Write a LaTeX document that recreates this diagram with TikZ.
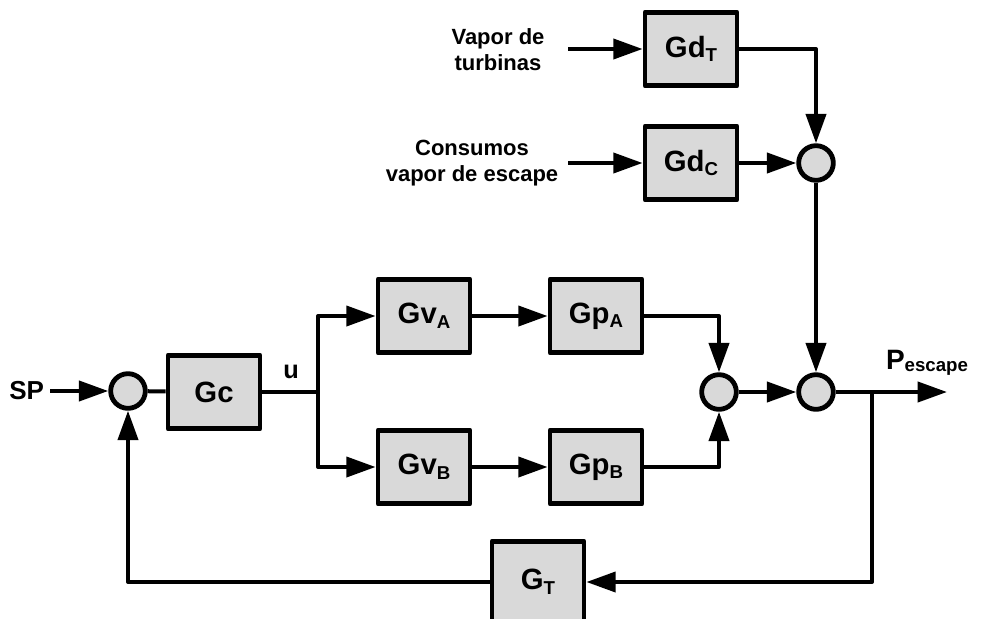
\documentclass[tikz,border=0pt]{standalone}
\usepackage{fontspec}
\setmainfont{Liberation Sans}
\usetikzlibrary{arrows.meta}
\definecolor{boxgray}{RGB}{217,217,217}
\newcommand{\lowsub}[1]{\raisebox{-0.3ex}{\fontsize{14}{14}\selectfont #1}}
\begin{document}
\begin{tikzpicture}[x=0.75pt,y=-0.75pt,line width=3pt,line join=round,
 blk/.style={draw,line width=3.6pt,fill=boxgray,minimum width=69pt,minimum height=55pt,font=\fontsize{22}{26}\selectfont\bfseries},
 sum/.style={draw,line width=3.6pt,fill=boxgray,circle,minimum size=26pt,inner sep=0pt},
 lbl/.style={inner sep=0pt,font=\fontsize{16.5}{19.5}\selectfont\bfseries,align=center},
 arr/.style={-{Triangle[length=22pt,width=15pt]}}]
\useasboundingbox (0,0) rectangle (981,618);
\node[sum] (s1) at (128,391) {};\node[blk] (gc) at (214,392) {Gc};
\node[blk] (gva) at (424,316) {Gv\lowsub{A}};\node[blk] (gpa) at (596,316) {Gp\lowsub{A}};
\node[blk] (gvb) at (424,467) {Gv\lowsub{B}};\node[blk] (gpb) at (596,467) {Gp\lowsub{B}};
\node[sum] (s2) at (719,392) {};\node[sum] (s3) at (816,392) {};
\node[blk] (gdt) at (691,49) {Gd\lowsub{T}};\node[blk] (gdc) at (691,163) {Gd\lowsub{C}};
\node[sum] (s4) at (816,163) {};\node[blk,minimum height=61pt] (gt) at (538,582) {G\lowsub{T}};
\coordinate (spin) at (50,391);\coordinate (br) at (318,392);\coordinate (fb) at (872,392);\coordinate (out) at (947,392);
\coordinate (vin) at (568,49);\coordinate (cin) at (568,163);
\node[anchor=east,inner sep=0pt,font=\fontsize{19.5}{23}\selectfont\bfseries] (sp) at (46,391) {SP};
\node[inner sep=0pt,font=\fontsize{19}{23}\selectfont\bfseries] (u) at (291,372) {u};
\node[anchor=base west,inner sep=0pt,font=\fontsize{21}{25}\selectfont\bfseries] (pesc) at (884,369) {P\raisebox{-0.15ex}{\fontsize{14}{14}\selectfont escape}};
\node[lbl] (vap) at (498,50) {Vapor de\\turbinas};\node[lbl] (cons) at (472,163) {Consumos\\vapor de escape};
\draw[arr] (spin)--(s1);\draw (s1)--(gc);\draw (gc)--(br);\draw[arr] (br)|-(gva);\draw[arr] (br)|-(gvb);
\draw[arr] (gva)--(gpa);\draw[arr] (gvb)--(gpb);\draw[arr] (gpa)-|(s2);\draw[arr] (gpb)-|(s2);
\draw[arr] (s2)--(s3);\draw[arr] (s3)--(out);\draw[arr] (fb)|-(gt);\draw[arr] (gt)-|(s1);
\draw[arr] (vin)--(gdt);\draw[arr] (cin)--(gdc);\draw[arr] (gdt)-|(s4);\draw[arr] (gdc)--(s4);\draw[arr] (s4)--(s3);
\end{tikzpicture}
\end{document}
